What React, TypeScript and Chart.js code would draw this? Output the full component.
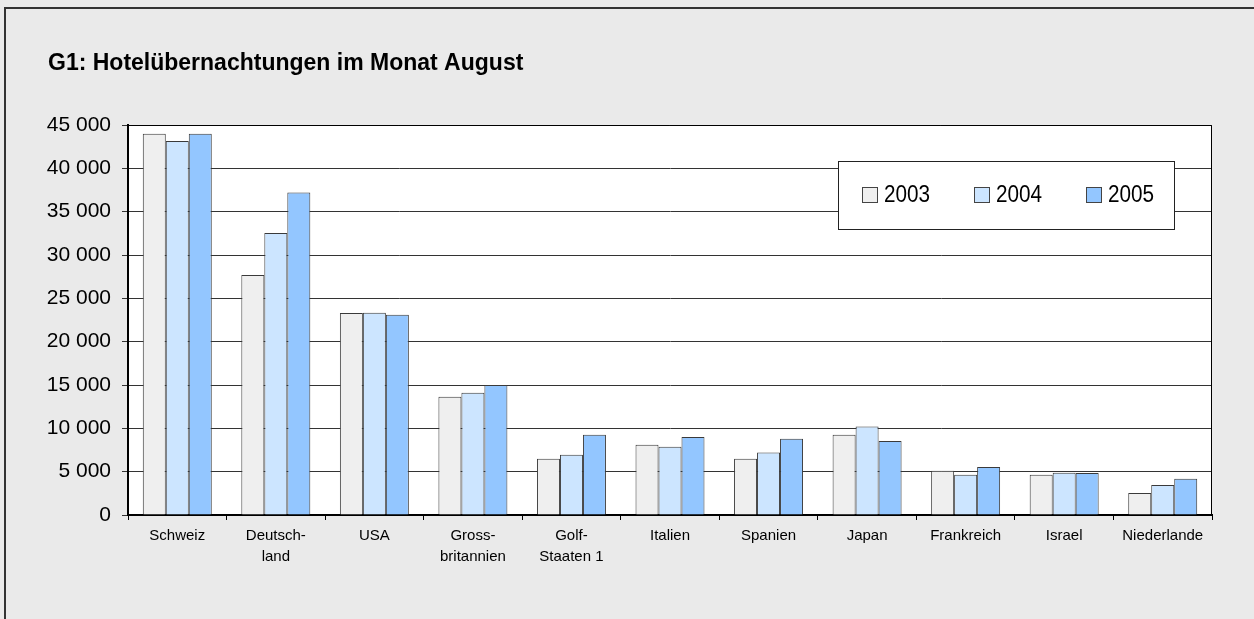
import React, { useEffect, useRef } from "react";
import { Chart, registerables } from "chart.js";

Chart.register(...registerables);

const categories: (string | string[])[] = [
  "Schweiz",
  ["Deutsch-", "land"],
  "USA",
  ["Gross-", "britannien"],
  ["Golf-", "Staaten 1"],
  "Italien",
  "Spanien",
  "Japan",
  "Frankreich",
  "Israel",
  "Niederlande",
];

const seriesNames = ["2003", "2004", "2005"];
const values2003 = [44000, 27700, 23300, 13650, 6500, 8100, 6500, 9250, 5100, 4650, 2550];
const values2004 = [43150, 32550, 23350, 14100, 6950, 7880, 7200, 10200, 4650, 4880, 3450];
const values2005 = [44000, 37200, 23100, 15000, 9250, 9000, 8800, 8550, 5550, 4850, 4180];
const seriesColors = ["#EFEFEF", "#CCE5FF", "#93C6FF"];

const yTicks = [0, 5000, 10000, 15000, 20000, 25000, 30000, 35000, 40000, 45000];
const titleText = "G1: Hotelübernachtungen im Monat August";

const FONT = "'Liberation Sans', Arial, sans-serif";

function fmt(v: number): string {
  return String(v).replace(/\B(?=(\d{3})+(?!\d))/g, " ");
}

const framePlugin = {
  id: "framePlugin",
  beforeDraw(chart: any) {
    const { ctx, width, height, chartArea } = chart;
    ctx.save();
    ctx.fillStyle = "#EAEAEA";
    ctx.fillRect(0, 0, width, height);
    ctx.strokeStyle = "#333333";
    ctx.lineWidth = 2;
    ctx.beginPath();
    ctx.moveTo(5, 619);
    ctx.lineTo(5, 8);
    ctx.lineTo(width, 8);
    ctx.stroke();
    ctx.fillStyle = "#FFFFFF";
    ctx.fillRect(chartArea.left, chartArea.top, chartArea.right - chartArea.left, chartArea.bottom - chartArea.top);
    ctx.restore();
  },
  afterDraw(chart: any) {
    const { ctx, chartArea } = chart;
    ctx.save();
    ctx.strokeStyle = "#000000";
    ctx.lineWidth = 1;
    ctx.beginPath();
    ctx.moveTo(chartArea.left, chartArea.top + 0.5);
    ctx.lineTo(chartArea.right - 0.5, chartArea.top + 0.5);
    ctx.lineTo(chartArea.right - 0.5, chartArea.bottom);
    ctx.stroke();

    ctx.fillStyle = "#000000";
    ctx.font = `bold 23px ${FONT}`;
    ctx.textBaseline = "alphabetic";
    ctx.textAlign = "left";
    ctx.fillText(titleText, 48, 70);

    const bx = 838, by = 161, bw = 336, bh = 68;
    ctx.fillStyle = "#FFFFFF";
    ctx.fillRect(bx, by, bw, bh);
    ctx.strokeStyle = "#222222";
    ctx.lineWidth = 1;
    ctx.strokeRect(bx + 0.5, by + 0.5, bw, bh);
    const sqX = [862, 974, 1086];
    const txX = [884, 996, 1108];
    for (let i = 0; i < seriesNames.length; i++) {
      ctx.fillStyle = seriesColors[i];
      ctx.fillRect(sqX[i], 187, 15, 15);
      ctx.strokeStyle = "#444444";
      ctx.strokeRect(sqX[i] + 0.5, 187.5, 15, 15);
      ctx.save();
      ctx.translate(txX[i], 202);
      ctx.scale(0.9, 1);
      ctx.fillStyle = "#000000";
      ctx.font = `23px ${FONT}`;
      ctx.textBaseline = "alphabetic";
      ctx.fillText(seriesNames[i], 0, 0);
      ctx.restore();
    }
    ctx.restore();
  },
};

export default function App() {
  const canvasRef = useRef<HTMLCanvasElement | null>(null);

  useEffect(() => {
    if (!canvasRef.current) return;
    const data = [values2003, values2004, values2005];
    const chart = new Chart(canvasRef.current, {
      type: "bar",
      data: {
        labels: categories,
        datasets: seriesNames.map((name, i) => ({
          label: name,
          data: data[i],
          backgroundColor: seriesColors[i],
          borderColor: "#3A3A3A",
          borderWidth: 1,
          categoryPercentage: 0.7,
          barPercentage: 1.0,
        })),
      },
      options: {
        responsive: false,
        animation: false,
        layout: { padding: { top: 125, right: 42, left: 0, bottom: 0 } },
        plugins: {
          legend: { display: false },
          title: { display: false },
          tooltip: { enabled: false },
        },
        scales: {
          x: {
            grid: {
              offset: true,
              drawOnChartArea: false,
              drawTicks: true,
              tickLength: 5,
              color: "#000000",
            },
            border: { color: "#000000", width: 2 },
            ticks: {
              color: "#000000",
              font: { family: FONT, size: 15, lineHeight: 1.43 },
              padding: 5,
              maxRotation: 0,
              minRotation: 0,
              autoSkip: false,
            },
            afterFit(scale: any) {
              scale.height = 104;
            },
          },
          y: {
            min: 0,
            max: 45000,
            afterBuildTicks(scale: any) {
              scale.ticks = yTicks.map((v) => ({ value: v }));
            },
            grid: {
              color: "#333333",
              lineWidth: 1,
              drawTicks: true,
              tickLength: 6,
            },
            border: { color: "#000000", width: 2 },
            ticks: {
              color: "#000000",
              font: { family: FONT, size: 21 },
              padding: 11,
              callback: (v: any) => fmt(Number(v)),
            },
            afterFit(scale: any) {
              scale.width = 128;
            },
          },
        },
      },
      plugins: [framePlugin],
    });
    return () => chart.destroy();
  }, []);

  return (
    <div style={{ position: "absolute", left: 0, top: 0, width: 1254, height: 619 }}>
      <canvas ref={canvasRef} width={1254} height={619} style={{ display: "block" }} />
    </div>
  );
}
